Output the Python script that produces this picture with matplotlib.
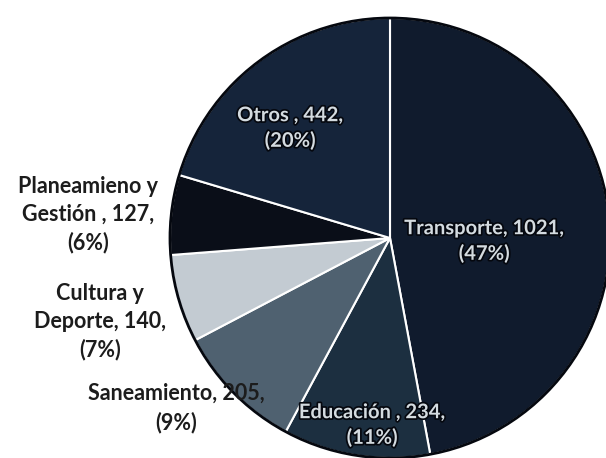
import matplotlib.pyplot as plt
import matplotlib.patheffects as pe

categories = ["Transporte", "Educación", "Saneamiento", "Cultura y Deporte", "Planeamieno y Gestión", "Otros"]
values = [1021, 234, 205, 140, 127, 442]
percents = ["47%", "11%", "9%", "7%", "6%", "20%"]
label_texts = [
    "Transporte, 1021,\n(47%)",
    "Educación , 234,\n(11%)",
    "Saneamiento, 205,\n(9%)",
    "Cultura y\nDeporte, 140,\n(7%)",
    "Planeamieno y\nGestión , 127,\n(6%)",
    "Otros , 442,\n(20%)",
]
colors = ["#101b2d", "#1c2f40", "#4f6170", "#c3cbd2", "#0a0e18", "#15243a"]

W, H = 606, 458
cx, cy, r = 390, 220, 220  # pie centre/radius in pixels (y from bottom)

fig = plt.figure(figsize=(W / 100, H / 100), dpi=100)
ax = fig.add_axes([0, 0, 1, 1])

wedges, _ = ax.pie(values, colors=colors, startangle=90, counterclock=False,
                   radius=1, center=(0, 0), frame=True,
                   wedgeprops=dict(edgecolor="white", linewidth=1.5))
ax.axis("off")
ax.set_xlim(-cx / r, (W - cx) / r)
ax.set_ylim(-cy / r, (H - cy) / r)
ax.set_aspect("auto")

# dark outer rim
circ = plt.Circle((0, 0), 1, fill=False, edgecolor="#05080f", linewidth=2)
ax.add_patch(circ)

def px(x, y):
    return (x - cx) / r, ((H - y) - cy) / r

inside = dict(color="#d4dbe0", fontsize=14.5, fontweight="bold", family="Lato",
              ha="center", va="center", linespacing=1.35,
              path_effects=[pe.withStroke(linewidth=2.5, foreground="#05080f")])
outside = dict(color="#1c1c1c", fontsize=15.5, fontweight="bold", family="Lato",
               ha="center", va="center", linespacing=1.4)

pos = {
    0: (484, 241, inside),
    1: (372, 425, inside),
    2: (176, 408, outside),
    3: (100, 322, outside),
    4: (88, 215, outside),
    5: (290, 128, inside),
}
for i, txt in enumerate(label_texts):
    x, y, style = pos[i]
    ax.text(*px(x, y), txt, **style)

fig.savefig("out.png", dpi=100)
